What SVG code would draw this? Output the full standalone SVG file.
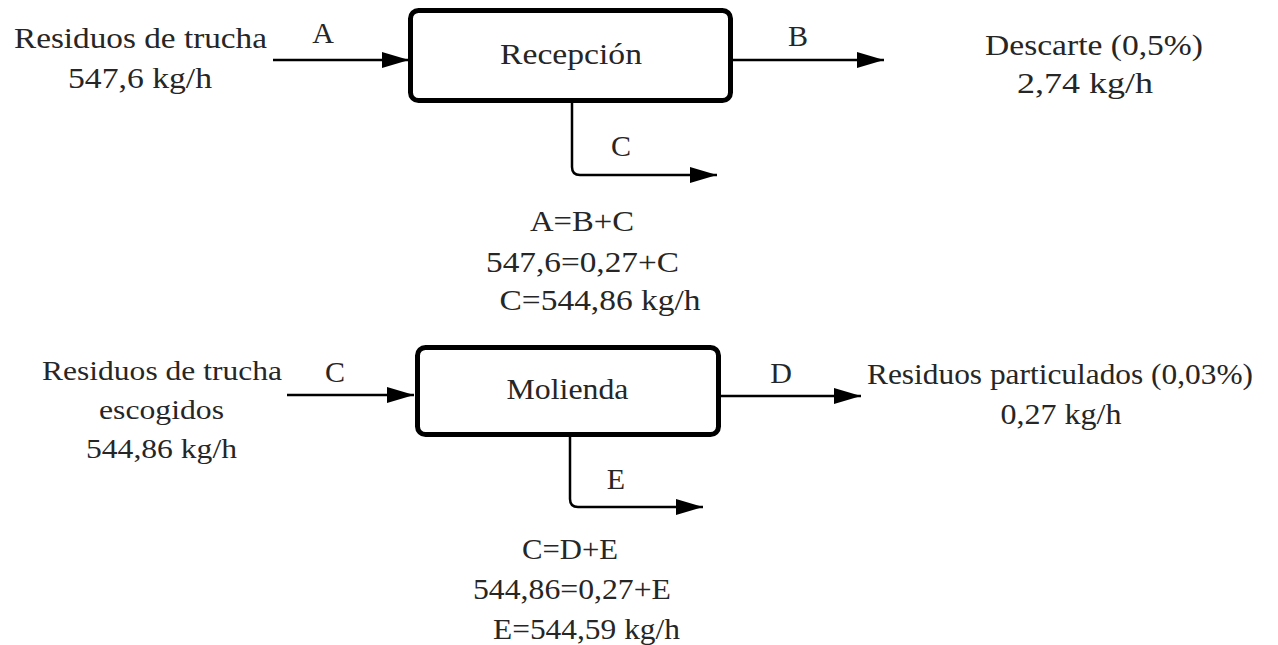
<svg xmlns="http://www.w3.org/2000/svg" width="1278" height="645" viewBox="0 0 1278 645">
  <style>
    .t { font-family: "Liberation Serif", "Times New Roman", serif; font-size: 30px; fill: #262626; text-anchor: middle; }
    .s { font-size: 28px; }
    .box { fill: #ffffff; stroke: #000000; stroke-width: 5; }
    .conn { fill: none; stroke: #000000; stroke-width: 2.5; }
  </style>
  <defs>
    <marker id="arr" markerUnits="userSpaceOnUse" markerWidth="28" markerHeight="18" refX="27" refY="8" orient="auto">
      <path d="M0,0 L27,8 L0,16 z" fill="#000000"/>
    </marker>
  </defs>
  <rect width="1278" height="645" fill="#ffffff"/>

  <g id="connectors">
    <path class="conn" d="M273,60 L409,60" marker-end="url(#arr)"/>
    <path class="conn" d="M733,60 L884,60" marker-end="url(#arr)"/>
    <path class="conn" d="M572,103 L572,167 Q572,175 580,175 L717,175" marker-end="url(#arr)"/>
    <path class="conn" d="M287,395 L414,395" marker-end="url(#arr)"/>
    <path class="conn" d="M721,396 L861,396" marker-end="url(#arr)"/>
    <path class="conn" d="M570,437 L570,499 Q570,507 578,507 L703,507" marker-end="url(#arr)"/>
  </g>

  <g id="label-A"><text class="t" x="323" y="43">A</text></g>
  <g id="label-B"><text class="t" x="798" y="46">B</text></g>
  <g id="label-C1"><text class="t" x="621" y="156">C</text></g>
  <g id="label-C2"><text class="t" x="335" y="382">C</text></g>
  <g id="label-D"><text class="t" x="781" y="383">D</text></g>
  <g id="label-E"><text class="t" x="616" y="489">E</text></g>

  <g id="node-recepcion">
    <rect class="box" x="410.5" y="10.5" width="320" height="90" rx="8"/>
    <text class="t" x="571" y="64" textLength="142" lengthAdjust="spacingAndGlyphs">Recepción</text>
  </g>

  <g id="node-molienda">
    <rect class="box" x="417.5" y="347.5" width="301" height="87" rx="8"/>
    <text class="t" x="567.5" y="399" textLength="122" lengthAdjust="spacingAndGlyphs">Molienda</text>
  </g>

  <g id="input-1">
    <text class="t" x="140.5" y="48" textLength="253" lengthAdjust="spacingAndGlyphs">Residuos de trucha</text>
    <text class="t" x="140" y="88" textLength="144" lengthAdjust="spacingAndGlyphs">547,6 kg/h</text>
  </g>

  <g id="output-B">
    <text class="t" x="1094" y="55" textLength="218" lengthAdjust="spacingAndGlyphs">Descarte (0,5%)</text>
    <text class="t" x="1085" y="93" textLength="136" lengthAdjust="spacingAndGlyphs">2,74 kg/h</text>
  </g>

  <g id="balance-1">
    <text class="t" x="582" y="231" textLength="104" lengthAdjust="spacingAndGlyphs">A=B+C</text>
    <text class="t" x="582.5" y="272" textLength="193" lengthAdjust="spacingAndGlyphs">547,6=0,27+C</text>
    <text class="t" x="600" y="310" textLength="201" lengthAdjust="spacingAndGlyphs">C=544,86 kg/h</text>
  </g>

  <g id="input-2">
    <text class="t s" x="162" y="380" textLength="240" lengthAdjust="spacingAndGlyphs">Residuos de trucha</text>
    <text class="t s" x="161.5" y="419" textLength="125" lengthAdjust="spacingAndGlyphs">escogidos</text>
    <text class="t s" x="161.5" y="458" textLength="151" lengthAdjust="spacingAndGlyphs">544,86 kg/h</text>
  </g>

  <g id="output-D">
    <text class="t" x="1060" y="384" textLength="386" lengthAdjust="spacingAndGlyphs">Residuos particulados (0,03%)</text>
    <text class="t" x="1061" y="424" textLength="121" lengthAdjust="spacingAndGlyphs">0,27 kg/h</text>
  </g>

  <g id="balance-2">
    <text class="t" x="570" y="559" textLength="96" lengthAdjust="spacingAndGlyphs">C=D+E</text>
    <text class="t" x="572" y="599" textLength="198" lengthAdjust="spacingAndGlyphs">544,86=0,27+E</text>
    <text class="t" x="586.5" y="639" textLength="187" lengthAdjust="spacingAndGlyphs">E=544,59 kg/h</text>
  </g>
</svg>
